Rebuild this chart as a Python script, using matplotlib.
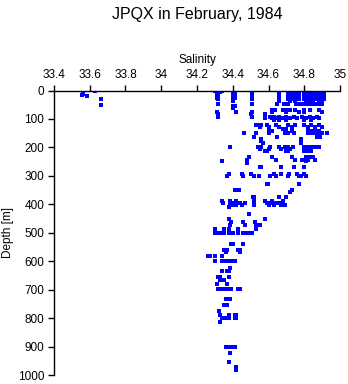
import numpy as np
import matplotlib
matplotlib.use('Agg')
import matplotlib.pyplot as plt

plt.rcParams['font.family'] = ['Liberation Sans', 'DejaVu Sans']

# Salinity / depth samples, grouped by layer: (depth [m], [salinity, ...])
surface_rows = [
    (0,  [33.63, 34.30, 34.34, 34.40, 34.41, 34.51, 34.66, 34.71, 34.72, 34.73, 34.75, 34.76, 34.77,
          34.80, 34.81, 34.82, 34.83, 34.84, 34.85, 34.86, 34.87, 34.88, 34.89, 34.90, 34.91]),
    (5,  [34.31, 34.33, 34.40, 34.51, 34.66, 34.71, 34.72, 34.74, 34.76, 34.77,
          34.80, 34.81, 34.82, 34.84, 34.85, 34.86, 34.87, 34.88, 34.90, 34.91]),
    (10, [34.31, 34.40, 34.51, 34.66, 34.71, 34.73, 34.75, 34.77,
          34.80, 34.82, 34.83, 34.84, 34.86, 34.87, 34.89, 34.90, 34.91]),
    (12, [33.564]),
    (15, [33.555, 34.32, 34.41, 34.66, 34.71, 34.72, 34.74, 34.76,
          34.80, 34.81, 34.83, 34.85, 34.86, 34.88, 34.89, 34.90, 34.91]),
    (19, [33.583]),
    (20, [34.31, 34.40, 34.51, 34.66, 34.71, 34.72, 34.75, 34.77,
          34.80, 34.82, 34.84, 34.85, 34.87, 34.88, 34.90, 34.91]),
    (25, [34.31, 34.41, 34.51, 34.66, 34.71, 34.73, 34.76, 34.77,
          34.80, 34.81, 34.83, 34.85, 34.86, 34.88, 34.89, 34.91]),
    (31, [33.663, 34.32, 34.40, 34.51, 34.66, 34.71, 34.72, 34.74, 34.76, 34.77,
          34.80, 34.82, 34.84, 34.86, 34.87, 34.89, 34.90, 34.91]),
    (36, [34.40, 34.66, 34.72, 34.75, 34.81, 34.83, 34.85, 34.88, 34.90]),
    (47, [34.32, 34.51, 34.645, 34.65, 34.685, 34.70, 34.71, 34.755, 34.77, 34.79,
          34.80, 34.82, 34.84, 34.86, 34.88, 34.90]),
    (51, [33.663]),
    (55, [34.40, 34.41]),
    (62, [34.40]),
]

upper_rows = [
    (70, [34.62, 34.635, 34.68, 34.70, 34.72, 34.75, 34.80, 34.83, 34.88]),
    (76, [34.31, 34.42, 34.51, 34.62, 34.70, 34.77, 34.80, 34.90]),
    (84, [34.32, 34.50, 34.58]),
    (92, [34.32, 34.51, 34.61, 34.63, 34.66, 34.70, 34.74, 34.79, 34.83, 34.87]),
    (98, [34.58, 34.62, 34.64, 34.68, 34.72, 34.76, 34.81, 34.85, 34.88]),
    (104, [34.63, 34.66, 34.70, 34.80, 34.84]),
    (122, [34.53, 34.54, 34.56, 34.59, 34.64, 34.71, 34.75, 34.80, 34.84, 34.88]),
    (128, [34.55, 34.60, 34.66, 34.73, 34.82, 34.86, 34.90]),
    (134, [34.60, 34.68, 34.70]),
    (142, [34.62, 34.73, 34.82, 34.84, 34.86, 34.88]),
    (150, [34.465, 34.53, 34.60, 34.69, 34.71, 34.74, 34.82, 34.84, 34.86, 34.88, 34.90, 34.93]),
    (162, [34.52, 34.65, 34.87, 34.89]),
    (172, [34.56, 34.78]),
    (178, [34.56]),
    (183, [34.57, 34.78]),
    (197, [34.385, 34.54, 34.56, 34.61, 34.66, 34.69, 34.71, 34.735, 34.80, 34.82, 34.84, 34.86, 34.88]),
    (204, [34.55, 34.60, 34.67, 34.72, 34.83]),
    (214, [34.58, 34.59, 34.70, 34.71, 34.80, 34.81, 34.83, 34.84]),
    (234, [34.49, 34.62, 34.73, 34.81, 34.83, 34.85]),
    (243, [34.48, 34.64, 34.75, 34.79, 34.82, 34.86]),
    (249, [34.34, 34.48, 34.81]),
    (254, [34.48]),
    (270, [34.55, 34.56, 34.67, 34.74, 34.80]),
    (292, [34.377, 34.45, 34.50, 34.63, 34.67, 34.716, 34.76, 34.80]),
    (300, [34.37, 34.455, 34.52, 34.545, 34.61, 34.64, 34.71, 34.77, 34.78, 34.81]),
    (327, [34.59, 34.595, 34.77]),
]

mid_rows = [
    (350, [34.41, 34.415, 34.43, 34.435, 34.73]),
    (358, [34.72]),
    (376, [34.515, 34.52, 34.66, 34.70]),
    (388, [34.34, 34.385, 34.42, 34.52, 34.58, 34.62, 34.68]),
    (395, [34.345, 34.39, 34.40, 34.44, 34.47, 34.59, 34.61, 34.64, 34.66]),
    (402, [34.385, 34.40, 34.42, 34.45, 34.52, 34.60, 34.63, 34.67, 34.69]),
    (410, [34.38]),
    (433, [34.49]),
    (450, [34.38, 34.58]),
    (463, [34.39, 34.46, 34.525]),
    (474, [34.385, 34.47, 34.53, 34.55]),
    (488, [34.30, 34.35, 34.38, 34.43, 34.53]),
    (500, [34.30, 34.31, 34.32, 34.33, 34.35, 34.38, 34.40, 34.43, 34.46, 34.48, 34.50, 34.51]),
    (540, [34.39, 34.40, 34.46]),
    (560, [34.35, 34.37, 34.43, 34.44]),
    (568, [34.36, 34.44]),
]

deep_rows = [
    (583, [34.26, 34.27, 34.30, 34.34]),
    (599, [34.30, 34.34, 34.35, 34.36, 34.37, 34.38, 34.39, 34.41]),
    (623, [34.385]),
    (635, [34.34, 34.37, 34.38]),
    (655, [34.32, 34.33, 34.38]),
    (665, [34.33, 34.35]),
    (680, [34.31, 34.37]),
    (698, [34.32, 34.33, 34.34, 34.35, 34.37, 34.39, 34.43, 34.44]),
    (732, [34.36, 34.37, 34.385]),
    (755, [34.35, 34.37]),
    (775, [34.325]),
    (790, [34.38, 34.41, 34.42, 34.33]),
    (800, [34.34, 34.36, 34.38, 34.41, 34.42]),
    (813, [34.33]),
    (900, [34.36, 34.37, 34.39, 34.41]),
    (924, [34.385]),
    (953, [34.38]),
    (972, [34.42]),
    (982, [34.42]),
]

x_ticks = [33.4, 33.6, 33.8, 34.0, 34.2, 34.4, 34.6, 34.8, 35.0]
x_tick_labels = ['33.4', '33.6', '33.8', '34', '34.2', '34.4', '34.6', '34.8', '35']
y_ticks = list(range(0, 1001, 100))

sal, dep = [], []
for rows in (surface_rows, upper_rows, mid_rows, deep_rows):
    for d, values in rows:
        for s in values:
            sal.append(s)
            dep.append(d)

fig = plt.figure(figsize=(3.48, 3.84), dpi=100)
ax = fig.add_axes([54 / 348, 1 - 375 / 384, 286 / 348, 284.5 / 384])

ax.plot(sal, dep, linestyle='none', marker='s', markersize=2.2,
        markeredgewidth=0, color='#0000ff', antialiased=False)

ax.set_xlim(33.4, 35.0)
ax.set_ylim(1000, 0)
ax.xaxis.tick_top()
ax.xaxis.set_label_position('top')
ax.set_xticks(x_ticks)
ax.set_xticklabels(x_tick_labels)
ax.set_yticks(y_ticks)
ax.tick_params(direction='out', length=4, width=1, labelsize=8.5, pad=3)
for side in ('right', 'bottom'):
    ax.spines[side].set_visible(False)
ax.spines['top'].set_linewidth(1)
ax.spines['left'].set_linewidth(1)

ax.set_xlabel('Salinity', fontsize=8.5, labelpad=4)
ax.set_ylabel('Depth [m]', fontsize=8.5, va='center')
ax.yaxis.set_label_coords(-46 / 286, 0.5)

fig.text(197 / 348, 1 - 14 / 384, 'JPQX in February, 1984', ha='center', va='center', fontsize=11.5)

fig.savefig('out.png', dpi=100)
